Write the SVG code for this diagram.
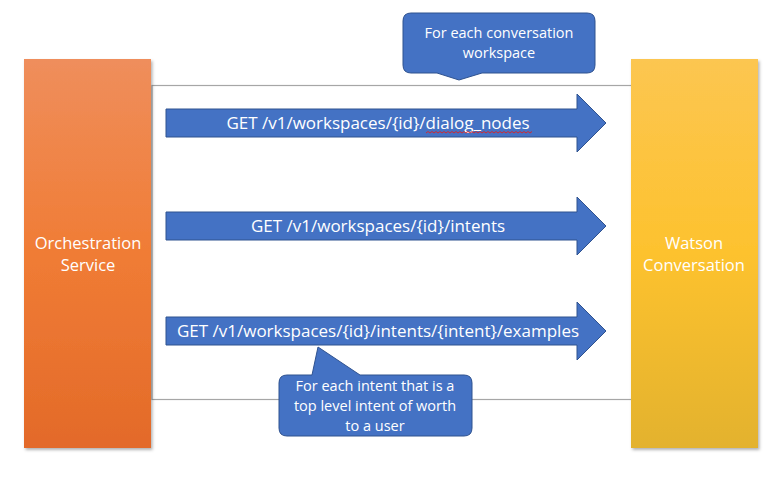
<svg xmlns="http://www.w3.org/2000/svg" width="776" height="484" viewBox="0 0 776 484">
<style>
.t{font-family:"Open Sans","Liberation Sans",sans-serif;fill:#fff;text-anchor:middle}
.arrow{fill:#4472C4;stroke:#2F528F;stroke-width:1}
.call{fill:#4472C4;stroke:#2F528F;stroke-width:1}
.frame{stroke:#A6A6A6;stroke-width:1.2;fill:none}
</style>
<defs>
<linearGradient id="og" x1="0" y1="0" x2="0" y2="1">
<stop offset="0" stop-color="#EF8E5C"/><stop offset="0.5" stop-color="#F07C35"/><stop offset="1" stop-color="#E36A29"/>
</linearGradient>
<linearGradient id="yg" x1="0" y1="0" x2="0" y2="1">
<stop offset="0" stop-color="#FCC651"/><stop offset="0.5" stop-color="#FDC22E"/><stop offset="1" stop-color="#E3B22D"/>
</linearGradient>
<filter id="sh" x="-10%" y="-10%" width="130%" height="130%">
<feDropShadow dx="1.5" dy="2" stdDeviation="1.5" flood-color="#000" flood-opacity="0.3"/>
</filter>
</defs>
<g id="connectors">
<rect class="frame" x="152" y="85.5" width="482" height="314"/>
</g>
<g id="orchestration">
<rect x="24" y="59" width="127" height="389" fill="url(#og)" filter="url(#sh)"/>
<text class="t" font-size="16.5" x="88" y="249">Orchestration</text>
<text class="t" font-size="16.5" x="88" y="271">Service</text>
</g>
<g id="watson">
<rect x="631" y="59" width="127" height="389" fill="url(#yg)" filter="url(#sh)"/>
<text class="t" font-size="16.5" x="694" y="249">Watson</text>
<text class="t" font-size="16.5" x="694" y="271">Conversation</text>
</g>
<g id="arrow1">
<path class="arrow" d="M166 109H577V94L606 123L577 152V137H166Z"/>
<text class="t" font-size="17" x="378" y="129">GET /v1/workspaces/{id}/dialog_nodes</text>
<path d="M426 133l2-1.5 2 1.5 2-1.5 2 1.5 2-1.5 2 1.5 2-1.5 2 1.5 2-1.5 2 1.5 2-1.5 2 1.5 2-1.5 2 1.5 2-1.5 2 1.5 2-1.5 2 1.5 2-1.5 2 1.5 2-1.5 2 1.5 2-1.5 2 1.5 2-1.5 2 1.5 2-1.5 2 1.5 2-1.5 2 1.5 2-1.5 2 1.5 2-1.5 2 1.5 2-1.5 2 1.5 2-1.5 2 1.5 2-1.5 2 1.5 2-1.5 2 1.5 2-1.5 2 1.5 2-1.5 2 1.5 2-1.5 2 1.5 2-1.5 2 1.5 2-1.5 2 1.5 2-1.5" fill="none" stroke="#E02020" stroke-width="0.9"/>
</g>
<g id="arrow2">
<path class="arrow" d="M166 212H577V197L606 226L577 255V240H166Z"/>
<text class="t" font-size="17" x="378" y="232">GET /v1/workspaces/{id}/intents</text>
</g>
<g id="arrow3">
<path class="arrow" d="M166 317H577V302L606 331L577 360V345H166Z"/>
<text class="t" font-size="17" x="378" y="337">GET /v1/workspaces/{id}/intents/{intent}/examples</text>
</g>
<g id="callout1">
<path class="call" d="M411 13H587Q595 13 595 21V65Q595 73 587 73H482L459 80L437 73H411Q403 73 403 65V21Q403 13 411 13Z"/>
<text class="t" font-size="14.5" x="499" y="38">For each conversation</text>
<text class="t" font-size="14.5" x="499" y="58">workspace</text>
</g>
<g id="callout2">
<path class="call" d="M287 375H312L318 347L360 375H464Q472 375 472 383V428Q472 436 464 436H287Q279 436 279 428V383Q279 375 287 375Z"/>
<text class="t" font-size="14.5" x="375" y="391">For each intent that is a</text>
<text class="t" font-size="14.5" x="375" y="411">top level intent of worth</text>
<text class="t" font-size="14.5" x="375" y="431">to a user</text>
</g>
</svg>
